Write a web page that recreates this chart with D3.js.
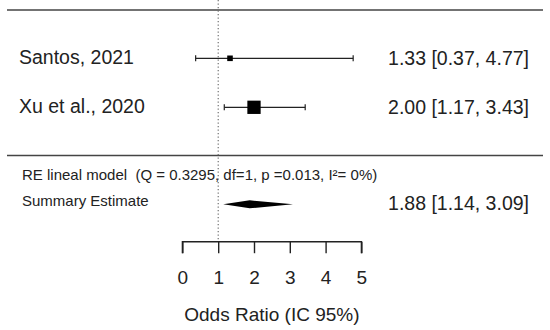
<!DOCTYPE html>
<html><head><meta charset="utf-8">
<script src="https://cdn.jsdelivr.net/npm/d3@7"></script>
<style>html,body{margin:0;padding:0;background:#fff;}svg{display:block;font-family:"Liberation Sans",Arial,sans-serif;}</style>
</head><body>
<script>
const studies = ["Santos, 2021", "Xu et al., 2020"];
const oddsRatio = [1.33, 2.00];
const lower = [0.37, 1.17];
const upper = [4.77, 3.43];
const weights = [15, 85];
const summary = {label: "Summary Estimate", or: 1.88, lo: 1.14, hi: 3.09};
const modelText = "RE lineal model  (Q = 0.3295, df=1, p =0.013, I\u00b2= 0%)";
const tickValues = [0, 1, 2, 3, 4, 5];
const axisTitle = "Odds Ratio (IC 95%)";

const W = 550, H = 330;
const svg = d3.select("body").append("svg").attr("width", W).attr("height", H);
const x = d3.scaleLinear().domain([0, 5]).range([182.4, 361.4]);
const yRow = d3.scalePoint().domain(studies).range([58.3, 107.3]);
const box = d3.scaleSqrt().domain([0, 85]).range([0, 13.3]);
const fmt = d3.format(".2f");
const ink = "#222";

// separator lines
[10, 155.5].forEach(y => svg.append("line").attr("x1", 7).attr("x2", 543)
  .attr("y1", y).attr("y2", y).attr("stroke", "#444").attr("stroke-width", 1.6));

// reference line at OR = 1
svg.append("line").attr("x1", x(1)).attr("x2", x(1)).attr("y1", 0).attr("y2", 241.7)
  .attr("stroke", "#666").attr("stroke-width", 1.1).attr("stroke-dasharray", "1.2,2.3");

// study rows
studies.forEach((s, i) => {
  const y = yRow(s);
  svg.append("text").attr("x", 19).attr("y", y + 5.3).attr("font-size", 19.5)
    .attr("fill", ink).text(s);
  svg.append("line").attr("x1", x(lower[i])).attr("x2", x(upper[i])).attr("y1", y).attr("y2", y)
    .attr("stroke", ink).attr("stroke-width", 1.2);
  [lower[i], upper[i]].forEach(v => svg.append("line").attr("x1", x(v)).attr("x2", x(v))
    .attr("y1", y - 3).attr("y2", y + 3).attr("stroke", ink).attr("stroke-width", 1.2));
  const b = box(weights[i]);
  svg.append("rect").attr("x", x(oddsRatio[i]) - b / 2).attr("y", y - b / 2)
    .attr("width", b).attr("height", b).attr("fill", "#000");
  svg.append("text").attr("x", 529).attr("y", y + 6.5).attr("font-size", 19.5)
    .attr("text-anchor", "end").attr("fill", ink)
    .text(`${fmt(oddsRatio[i])} [${fmt(lower[i])}, ${fmt(upper[i])}]`);
});

// model text
svg.append("text").attr("x", 22).attr("y", 180).attr("font-size", 15).attr("fill", ink)
  .attr("xml:space", "preserve").style("white-space", "pre").text(modelText);
svg.append("text").attr("x", 22).attr("y", 205.5).attr("font-size", 15).attr("fill", ink).text(summary.label);

// summary diamond
const yd = 204.3;
svg.append("path")
  .attr("d", `M${x(summary.lo)},${yd} L${x(summary.or)},${yd - 4} L${x(summary.hi)},${yd} L${x(summary.or)},${yd + 4} Z`)
  .attr("fill", "#000");
svg.append("text").attr("x", 529).attr("y", 209.5).attr("font-size", 19.5)
  .attr("text-anchor", "end").attr("fill", ink)
  .text(`${fmt(summary.or)} [${fmt(summary.lo)}, ${fmt(summary.hi)}]`);

// axis
const axis = d3.axisBottom(x).tickValues(tickValues).tickSize(11.5).tickPadding(17).tickFormat(d3.format("d"));
const gAx = svg.append("g").attr("transform", "translate(0,241.7)").call(axis);
gAx.select(".domain").attr("d", `M${x(0)},11.5V0H${x(5)}V11.5`).attr("stroke", ink).attr("stroke-width", 1.4);
gAx.selectAll(".tick line").attr("stroke", ink).attr("stroke-width", 1.4);
gAx.selectAll(".tick text").attr("font-size", 19).attr("fill", ink).attr("font-family", "Liberation Sans, Arial, sans-serif");

svg.append("text").attr("x", (x(0) + x(5)) / 2).attr("y", 320.5).attr("font-size", 19)
  .attr("text-anchor", "middle").attr("fill", ink).text(axisTitle);
</script>
</body></html>
